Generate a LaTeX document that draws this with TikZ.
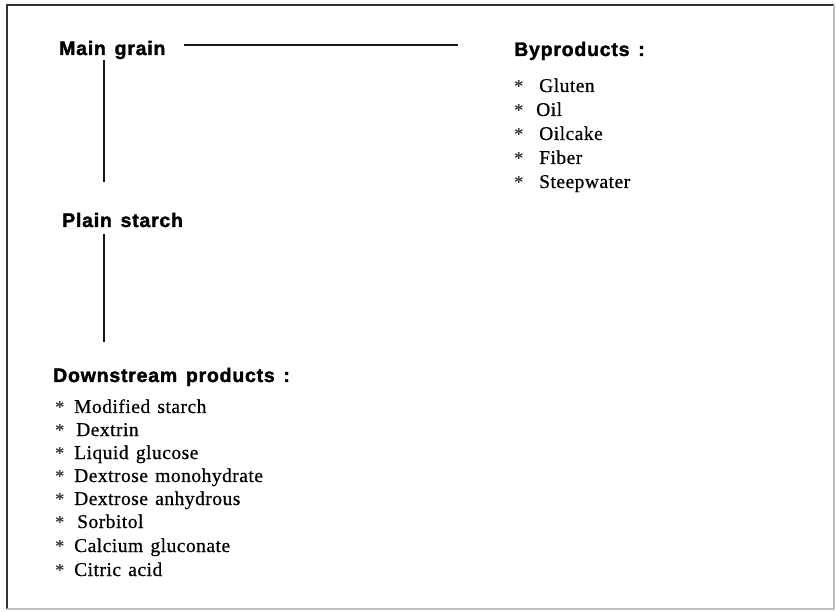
\documentclass[tikz,border=0pt]{standalone}
\usepackage{fontspec}
\setmainfont{Liberation Serif}
\setsansfont{Liberation Sans}
\newfontfamily\headfont{Liberation Sans Bold}[LetterSpace=4,WordSpace=1.4,FakeBold=1.8]
\newfontfamily\itemfont{Liberation Serif}[LetterSpace=2.5,WordSpace=1.35,FakeBold=0.6]
\begin{document}
\begin{tikzpicture}[x=1pt,y=-1pt,
  heading/.style={anchor=base west,inner sep=0pt,font=\fontsize{19.5}{22}\selectfont\headfont},
  item/.style={anchor=base west,inner sep=0pt,font=\fontsize{19.5}{22}\selectfont\itemfont},
  star/.style={anchor=base west,inner sep=0pt,font=\fontsize{18}{22}\selectfont\itemfont,text=black!75},
  link/.style={line width=2.2pt,black!90}]
\useasboundingbox (0,0) rectangle (836,612);
\fill[white] (0,0) rectangle (836,612);
% frame
\draw[line width=2.2pt,black!80] (7,609) -- (7,5) -- (834,5);
\draw[line width=1.2pt,black!25] (834,5) -- (834,609) -- (7,609);
% headings
\node[heading] (main) at (59,55) {Main grain};
\node[heading] (plain) at (62,227) {Plain starch};
\node[heading] (down) at (53,382) {Downstream products :};
\node[heading] (byp) at (514,56) {Byproducts :};
% connectors
\coordinate (hstart) at (184,45);
\coordinate (hend) at (458,45);
\coordinate (v1top) at (104,60);
\coordinate (v1bot) at (104,182);
\coordinate (v2top) at (104,234);
\coordinate (v2bot) at (104,342);
\draw[link] (hstart) -- (hend);
\draw[link] (v1top) -- (v1bot);
\draw[link] (v2top) -- (v2bot);
% byproducts list
\foreach \t/\y/\x [count=\i] in {Gluten/92/539,Oil/116/536,Oilcake/140/539,Fiber/164/539,Steepwater/188/539}{
  \node[star] (bs\i) at (514,\y) {*};
  \node[item] (b\i) at (\x,\y) {\t};
}
% downstream list
\foreach \t/\y/\x [count=\i] in {Modified starch/413/74,Dextrin/436/76,Liquid glucose/459/74,Dextrose monohydrate/482/74,Dextrose anhydrous/505/74,Sorbitol/528/77,Calcium gluconate/552/74,Citric acid/576/74}{
  \node[star] (ds\i) at (55,\y) {*};
  \node[item] (d\i) at (\x,\y) {\t};
}
\end{tikzpicture}
\end{document}
